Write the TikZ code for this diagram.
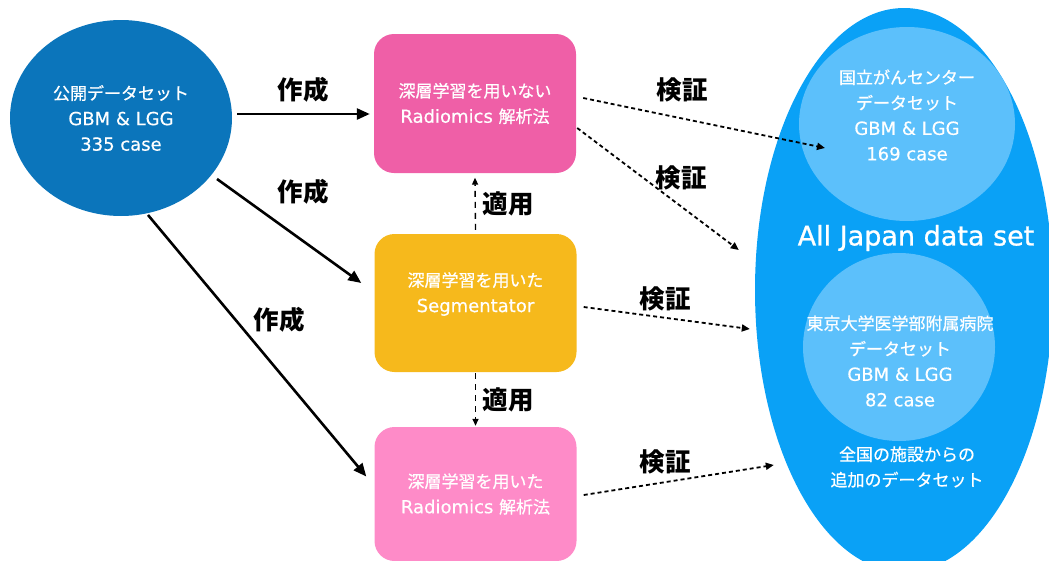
\documentclass[tikz,border=0pt]{standalone}
\usepackage{fontspec}
\setmainfont{Noto Sans CJK JP}
\newfontfamily\jpw{Noto Sans CJK JP}[FakeBold=0.6]
\newfontfamily\lat{DejaVu Sans}[FakeBold=0.5]
\newfontfamily\latbig{DejaVu Sans}[FakeBold=0.9]
\usetikzlibrary{arrows.meta,calc,shapes.geometric}
\definecolor{cSrc}{HTML}{0B75BB}
\definecolor{cPinkA}{HTML}{EF5FA7}
\definecolor{cOrange}{HTML}{F6B91C}
\definecolor{cPinkB}{HTML}{FE8BC8}
\definecolor{cBig}{HTML}{0AA1F6}
\definecolor{cInner}{HTML}{5CC0FB}
\newcommand\La[1]{{\lat\fontsize{18}{25.5}\selectfont #1}}
\begin{document}
\begin{tikzpicture}[x=1pt,y=-1pt,
  txt/.style={text=white, align=center, font=\jpw\fontsize{17}{25.5}\selectfont, inner sep=0pt},
  boxnode/.style={rectangle, rounded corners=20pt, minimum width=202pt, minimum height=139pt, inner sep=0pt},
  oval/.style={ellipse, inner sep=0pt},
  lbl/.style={font=\fontsize{25.5}{28}\selectfont\bfseries, inner sep=0pt},
  mk/.style={line width=2.6pt, -{Triangle[length=13pt,width=11pt]}},
  ver/.style={line width=1.8pt, dash pattern=on 4pt off 3pt, -{Triangle[length=8pt,width=7pt]}},
  app/.style={line width=1.4pt, dash pattern=on 6pt off 5pt, -{Triangle[length=7pt,width=6pt]}}
]
\useasboundingbox (0,0) rectangle (1049,560);
\clip (0,0) rectangle (1049,560);

% source circle
\node[oval, fill=cSrc, minimum width=222pt, minimum height=196pt, txt] (src) at (121,118)
  {公開データセット\\\La{GBM \& LGG}\\\La{335 case}};

% boxes
\node[boxnode, fill=cPinkA, txt] (b1) at (475,103.5)
  {深層学習を用いない\\\La{Radiomics\ }解析法};
\node[boxnode, fill=cOrange, minimum height=138pt] (b2) at (475.5,303) {};
\node[txt] (b2t) at (475.5,294) {深層学習を用いた\\\La{Segmentator}};
\node[boxnode, fill=cPinkB, minimum height=134pt, txt] (b3) at (475.5,494)
  {深層学習を用いた\\\La{Radiomics\ }解析法};

% big ellipse and inner circles
\node[oval, fill=cBig, minimum width=298pt, minimum height=564pt] (E) at (904,290) {};
\node[oval, fill=cInner, minimum width=216pt, minimum height=194pt] (c1) at (907,124) {};
\node[txt] (c1t) at (907,115)
  {国立がんセンター\\データセット\\\La{GBM \& LGG}\\\La{169 case}};
\node[oval, fill=cInner, minimum width=192pt, minimum height=188pt] (c2) at (899,347) {};
\node[txt] (c2t) at (900,361)
  {東京大学医学部附属病院\\データセット\\\La{GBM \& LGG}\\\La{82 case}};
\node[txt, font=\latbig\fontsize{27}{30}\selectfont] (aj) at (916,238) {All Japan data set};
\node[txt] (c3t) at (907,467) {全国の施設からの\\追加のデータセット};

% creation arrows
\draw[mk] ($(src.east)+(5,-4)$) -- ($(b1.west)+(-4,10.5)$);
\draw[mk] ($(src)+(96,61)$) -- ($(b2.west)+(-13,-20)$);
\draw[mk] ($(src)+(27,97)$) -- ($(b3.west)+(-8,-17.5)$);
\node[lbl] (l1) at (303,90) {作成};
\node[lbl] (l2) at (303,192) {作成};
\node[lbl] (l3) at (279,320) {作成};

% apply arrows
\draw[app] ($(b2.north)+(0,-4)$) -- ($(b1.south)+(0,4.5)$);
\draw[app] ($(b2.south)+(0,1)$) -- ($(b3.north)+(0,-1)$);
\node[lbl] (a1) at (508,204) {適用};
\node[lbl] (a2) at (508,400) {適用};

% verification arrows
\coordinate (v2end) at ($(E.west)+(-16,-40)$);
\coordinate (v3end) at ($(E.west)+(-5,39)$);
\coordinate (v4end) at ($(E.west)+(19,175)$);
\draw[ver] ($(b1.east)+(7,-5.5)$) -- ($(c1)+(-82,24)$);
\draw[ver] ($(b1.east)+(1,24.5)$) -- (v2end);
\draw[ver] ($(b2.east)+(7,4)$) -- (v3end);
\draw[ver] ($(b3.east)+(7,1)$) -- (v4end);
\node[lbl] (k1) at (682,90) {検証};
\node[lbl] (k2) at (681,178) {検証};
\node[lbl] (k3) at (665,299) {検証};
\node[lbl] (k4) at (665,462) {検証};
\end{tikzpicture}
\end{document}
